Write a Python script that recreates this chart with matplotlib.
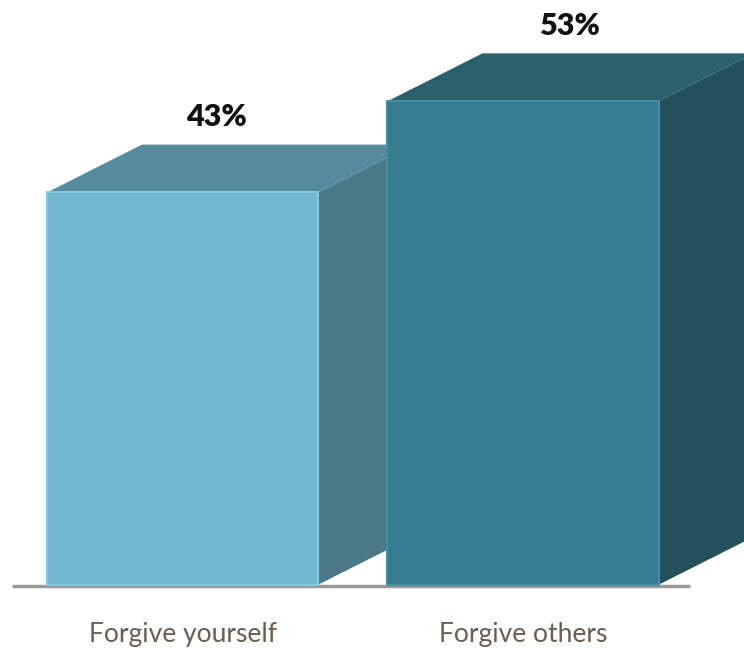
import numpy as np
import matplotlib.pyplot as plt
from matplotlib.patches import Polygon

categories = ['Forgive yourself', 'Forgive others']
values = [43, 53]
labels = ['43%', '53%']

# face colours per bar: front, top, side
front_colors = ['#71b7cf', '#367c91']
top_colors = ['#558b9d', '#2b606d']
side_colors = ['#4a7887', '#23505c']
edge_colors = ['#86c8de', '#4a8ea3']

fig = plt.figure(figsize=(7.44, 6.5), dpi=100)
ax = fig.add_axes([0, 0, 1, 1])
ax.set_xlim(-0.536, 1.649)
ax.set_ylim(-7.15, 64.1)
ax.axis('off')

width = 0.796
dx = 0.279   # depth offset in x
dy = 5.25    # depth offset in y

for i, v in enumerate(values):
    x0 = i - width / 2
    x1 = i + width / 2
    # side face
    side = Polygon([(x1, 0), (x1 + dx, dy), (x1 + dx, v + dy), (x1, v)],
                   closed=True, fc=side_colors[i], ec='none', zorder=2 + i * 3)
    ax.add_patch(side)
    # top face
    top = Polygon([(x0, v), (x0 + dx, v + dy), (x1 + dx, v + dy), (x1, v)],
                  closed=True, fc=top_colors[i], ec='none', zorder=2 + i * 3)
    ax.add_patch(top)
    # front face
    front = Polygon([(x0, 0), (x0, v), (x1, v), (x1, 0)],
                    closed=True, fc=front_colors[i], ec=edge_colors[i],
                    lw=1.5, joinstyle='round', zorder=3 + i * 3)
    ax.add_patch(front)

    ax.text(i + dx / 2 - 0.04 * (1 - i), v + dy + 1.5, labels[i],
            ha='center', va='bottom', fontsize=22, fontweight='heavy',
            family='Lato', color='#111111', zorder=10)
    ax.text(i, -5.5, categories[i], ha='center', va='center', fontsize=19,
            family='Lato', color='#6b5e50', zorder=10)

# floor line
ax.plot([-0.5, 1.49], [-0.1, -0.1], color='#9a9a9a', lw=2.5,
        solid_capstyle='butt', zorder=1)

fig.savefig('out.png', dpi=100)
